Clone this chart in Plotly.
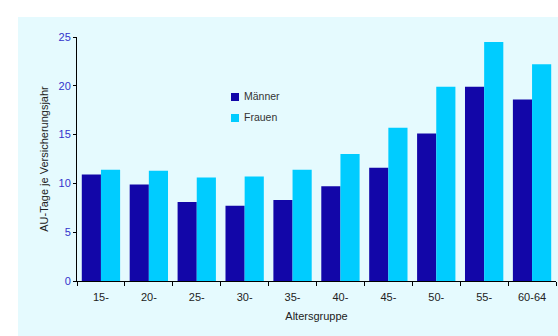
import plotly.graph_objects as go

# Age groups and sick-leave days per insured year
altersgruppen = ["15-", "20-", "25-", "30-", "35-", "40-", "45-", "50-", "55-", "60-64"]
maenner = [10.9, 9.9, 8.1, 7.7, 8.3, 9.7, 11.6, 15.1, 19.9, 18.6]
frauen = [11.4, 11.3, 10.6, 10.7, 11.4, 13.0, 15.7, 19.9, 24.5, 22.2]

serien = ["Männer", "Frauen"]
farben = ["#1206A8", "#00CCFF"]

W, H = 558, 336
L, R, T, B = 77, 2, 37, 55
FONT = "Liberation Sans, Arial, sans-serif"
BG = "#E5FAFE"

pw = W - L - R
ph = H - T - B


def px_x(x):
    return (x - L) / pw


def px_y(y):
    return 1 - (y - T) / ph


fig = go.Figure()
for name, vals, col in zip(serien, [maenner, frauen], farben):
    fig.add_trace(go.Bar(x=altersgruppen, y=vals, name=name,
                         marker=dict(color=col, line=dict(width=0)),
                         showlegend=False))

shapes = [
    # light panel behind the chart, leaving a white strip at top and left
    dict(type="rect", xref="paper", yref="paper", layer="below",
         x0=px_x(18), x1=px_x(W), y0=px_y(H), y1=px_y(17),
         fillcolor=BG, line=dict(width=0)),
]
annotations = []
# legend: small squares with labels
for i, (name, col) in enumerate(zip(serien, farben)):
    top = 93 + i * 21
    shapes.append(dict(type="rect", xref="paper", yref="paper",
                       x0=px_x(231), x1=px_x(239), y0=px_y(top + 8), y1=px_y(top),
                       fillcolor=col, line=dict(width=0)))
    annotations.append(dict(text=name, xref="paper", yref="paper",
                            x=px_x(242), y=px_y(top + 3), xanchor="left",
                            yanchor="middle", showarrow=False,
                            font=dict(family=FONT, size=10.5, color="#333333")))

fig.update_layout(
    width=W, height=H,
    margin=dict(l=L, r=R, t=T, b=B, pad=0),
    paper_bgcolor="white",
    plot_bgcolor="rgba(0,0,0,0)",
    barmode="group", bargap=0.2, bargroupgap=0.0,
    shapes=shapes, annotations=annotations,
    font=dict(family=FONT, size=11, color="#222222"),
    xaxis=dict(
        type="category", showline=True, linecolor="black", linewidth=1,
        ticks="outside", tickson="boundaries", ticklen=4, tickcolor="black",
        showgrid=False, tickfont=dict(size=11, color="#222222"),
        ticklabelstandoff=6,
        title=dict(text="Altersgruppe", font=dict(size=11, color="#222222"),
                   standoff=10),
    ),
    yaxis=dict(
        range=[0, 25], dtick=5, showline=True, linecolor="black", linewidth=1,
        ticks="outside", ticklen=3, tickcolor="black", showgrid=False,
        zeroline=False, tickfont=dict(size=11, color="#3333CC"),
        title=dict(text="AU-Tage je Versicherungsjahr",
                   font=dict(size=11, color="#222222"), standoff=7),
    ),
)

fig.write_html("out.html")
